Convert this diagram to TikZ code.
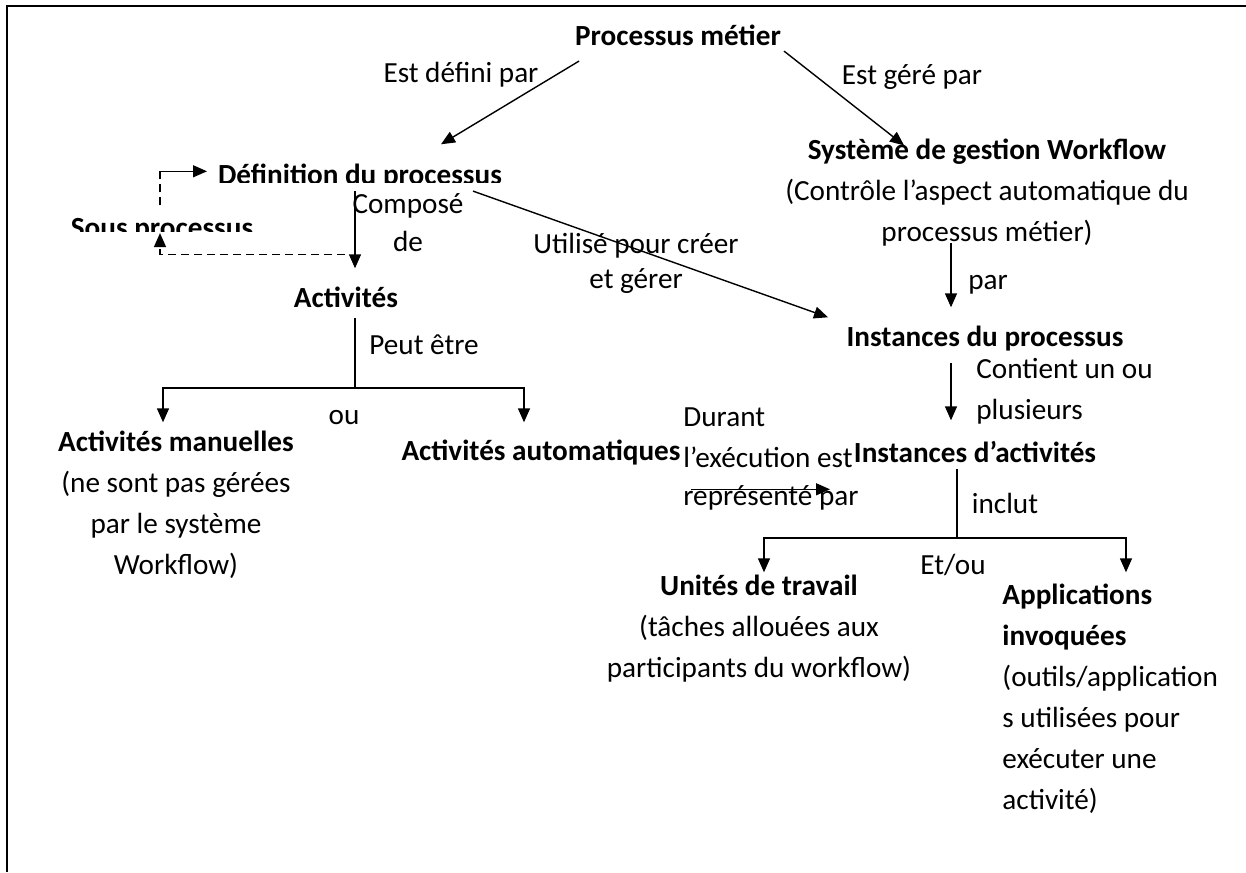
\documentclass[tikz,border=0pt]{standalone}
\usepackage{fontspec}
\setmainfont{Carlito}
\usepackage{tikz}
\usetikzlibrary{arrows.meta, calc}
\newcommand{\diagfont}{\fontsize{14.6pt}{20.5pt}\selectfont}

\begin{document}
\begin{tikzpicture}[x=0.5pt, y=-0.5pt,
    txt/.style={font=\diagfont, inner sep=0pt, anchor=north, execute at begin node=\strut},
    gras/.style={font=\diagfont\bfseries},
    fleche/.style={-{Triangle[length=7pt,width=6pt]}, line width=0.7pt},
    trait/.style={line width=0.7pt},
    tiret/.style={line width=0.7pt, dash pattern=on 4pt off 2.5pt}]

        \useasboundingbox (0,0) rectangle (1246,872);

        % Cadre
        \draw[line width=1.2pt] (7,872) -- (7,6) -- (1246,6);

        % Les concepts
        \node[txt, gras] (pm) at (678,16.3) {Processus métier};
        \node[txt] (defpar) at (461,53.3) {Est défini par};
        \node[txt] (gerpar) at (912,55.3) {Est géré par};
        \begin{scope}
            \clip (200,140) rectangle (520,182); % texte coupé
            \node[txt, gras] (def) at (360,155.3) {Définition du processus};
        \end{scope}
        \node[txt, align=center] (sgw) at (987,138.3) {\textbf{Système de gestion Workflow}\\(Contrôle l’aspect automatique du\\processus métier)};
        \begin{scope}
            \clip (50,200) rectangle (270,231); % texte coupé
            \node[txt, gras] (sous) at (162,208.3) {Sous processus};
        \end{scope}
        \node[txt, align=center] (compose) at (408,193.3) {Composé\\[-1.5pt]de};
        \node[txt, gras] (act) at (346,278.3) {Activités};
        \node[txt, align=center] (utilise) at (636,233.3) {Utilisé pour créer\\[-3pt]et gérer};
        \node[txt] (par) at (988,260.3) {par};
        \node[txt, gras] (ip) at (985,317.3) {Instances du processus};
        \node[txt] (peut) at (424,325.3) {Peut être};
        \node[txt, align=left, anchor=north west] (contient) at (976,358.3) {Contient un ou\\plusieurs};
        \node[txt] (ou) at (344,395.3) {ou};
        \node[txt, align=center] (man) at (176,430.3) {\textbf{Activités manuelles}\\(ne sont pas gérées\\par le système\\Workflow)};
        \node[txt, gras] (auto) at (541,431.3) {Activités automatiques};
        \node[txt, align=left, anchor=north west] (durant) at (683,407.3) {Durant\\l’exécution est\\[-1.5pt]représenté par};
        \node[txt, gras] (ia) at (975,433.3) {Instances d’activités};
        \node[txt] (inclut) at (1005,484.3) {inclut};
        \node[txt] (etou) at (953,545.3) {Et/ou};
        \node[txt, align=center] (ut) at (759,574.3) {\textbf{Unités de travail}\\(tâches allouées aux\\participants du workflow)};
        \node[txt, align=left, anchor=north west] (app) at (1002,583.3) {\textbf{Applications}\\\textbf{invoquées}\\(outils/application\\s utilisées pour\\exécuter une\\activité)};

        % Les liens
        \draw[fleche] ($(pm.south)+(-99,3)$) -- ($(def.north)+(81,-11)$); % Est défini par
        \draw[fleche] ($(pm.south)+(106,-7)$) -- ($(sgw.north)+(-83,7)$); % Est géré par
        \draw[fleche] ($(def.south)+(-5,-6)$) -- ($(act.north)+(9,-10)$); % Composé de
        \draw[fleche] ($(def.south)+(113,-6)$) -- ($(ip.north)+(-157,0)$); % Utilisé pour créer et gérer
        \draw[fleche] ($(sgw.south)+(-36,-11)$) -- ($(ip.north)+(-34,-10)$); % par
        \draw[fleche] ($(ip.south)+(-34,4)$) -- ($(ia.north)+(-24,-13)$); % Contient un ou plusieurs

        % Sous processus
        \draw[tiret, fleche] ($(act.north)+(-1,-24)$) -| ($(sous.south)+(-2,-17)$);
        \draw[tiret] ($(sous.north)+(-2,-3)$) -- ($(sous.north)+(-2,-37)$) coordinate (coin);
        \draw[fleche] (coin) -- ($(def.north)+(-153,16)$);

        % Peut être ... ou
        \coordinate (actsplit) at ($(act.south)+(9,68)$);
        \draw[trait] ($(act.south)+(9,-2)$) -- (actsplit);
        \draw[fleche] (actsplit) -| ($(man.north)+(-13,-8)$);
        \draw[fleche] (actsplit) -| ($(auto.north)+(-17,-9)$);

        % Durant l'exécution
        \draw[fleche] ($(durant.north west)+(8,82)$) -- +(139,0);

        % inclut ... Et/ou
        \coordinate (iasplit) at ($(ia.south)+(-18,63)$);
        \draw[trait] ($(ia.south)+(-18,-6)$) -- (iasplit);
        \draw[fleche] (iasplit) -| ($(ut.north)+(5,-2)$);
        \draw[fleche] (iasplit) -| ($(app.north west)+(124,-11)$);

\end{tikzpicture}
\end{document}
